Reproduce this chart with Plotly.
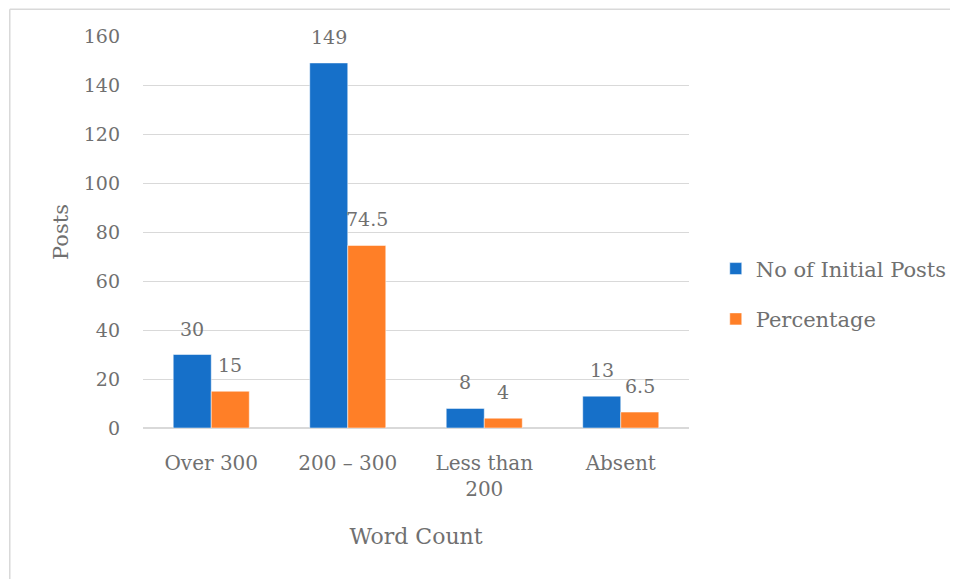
import plotly.graph_objects as go

categories = ["Over 300", "200 – 300", "Less than<br>200", "Absent"]
initial_posts = [30, 149, 8, 13]
percentage = [15, 74.5, 4, 6.5]
initial_labels = ["30", "149", "8", "13"]
percentage_labels = ["15", "74.5", "4", "6.5"]
y_ticks = [0, 20, 40, 60, 80, 100, 120, 140, 160]

FONT = "Palatino Linotype, Book Antiqua, Palatino, URW Palladio L, DejaVu Serif, serif"
GRAY = "#707070"
BLUE = "#1670C9"
ORANGE = "#FF7F27"

fig = go.Figure()
fig.add_trace(go.Bar(name="No of Initial Posts", x=categories, y=initial_posts, legendgroup="a",
                     marker=dict(color=BLUE, line=dict(color="white", width=0.5))))
fig.add_trace(go.Bar(name="Percentage", x=categories, y=percentage, legendgroup="b",
                     marker=dict(color=ORANGE, line=dict(color="white", width=0.5))))

annotations = []
for i, (v, t) in enumerate(zip(initial_posts, initial_labels)):
    annotations.append(dict(x=i - 0.14, y=v, xref="x", yref="y", text=t, showarrow=False,
                            yanchor="bottom", yshift=13, font=dict(family=FONT, size=19, color=GRAY)))
for i, (v, t) in enumerate(zip(percentage, percentage_labels)):
    annotations.append(dict(x=i + 0.14, y=v, xref="x", yref="y", text=t, showarrow=False,
                            yanchor="bottom", yshift=13, font=dict(family=FONT, size=19, color=GRAY)))

fig.update_layout(
    width=958, height=579,
    margin=dict(l=135, r=277, t=28, b=159),
    paper_bgcolor="white", plot_bgcolor="white",
    barmode="group", bargap=0.443, bargroupgap=0,
    font=dict(family=FONT, size=19, color=GRAY),
    showlegend=True,
    legend=dict(x=1.049, y=0.342, xanchor="left", yanchor="middle",
                font=dict(family=FONT, size=21, color=GRAY),
                itemwidth=30, tracegroupgap=20, traceorder="grouped"),
    xaxis=dict(type="category", showgrid=False, showline=False, ticks="",
               ticklabelstandoff=21,
               tickfont=dict(family=FONT, size=20, color=GRAY),
               title=dict(text="Word Count", font=dict(family=FONT, size=22, color=GRAY), standoff=28)),
    yaxis=dict(range=[0, 160], tickvals=y_ticks, showgrid=True, gridcolor="#D9D9D9", gridwidth=1,
               zeroline=True, zerolinecolor="#D9D9D9", zerolinewidth=1.5, showline=False,
               ticks="", ticklabelstandoff=22,
               tickfont=dict(family=FONT, size=19, color=GRAY),
               title=dict(text="Posts", font=dict(family=FONT, size=21, color=GRAY), standoff=9)),
    annotations=annotations,
    shapes=[
        dict(type="line", xref="paper", yref="paper", x0=-0.244, x1=1.6, y0=1.068, y1=1.068,
             line=dict(color="#D9D9D9", width=1.5)),
        dict(type="line", xref="paper", yref="paper", x0=-0.244, x1=-0.244, y0=-0.45, y1=1.068,
             line=dict(color="#D9D9D9", width=1.5)),
    ],
)

fig.write_html("out.html")
